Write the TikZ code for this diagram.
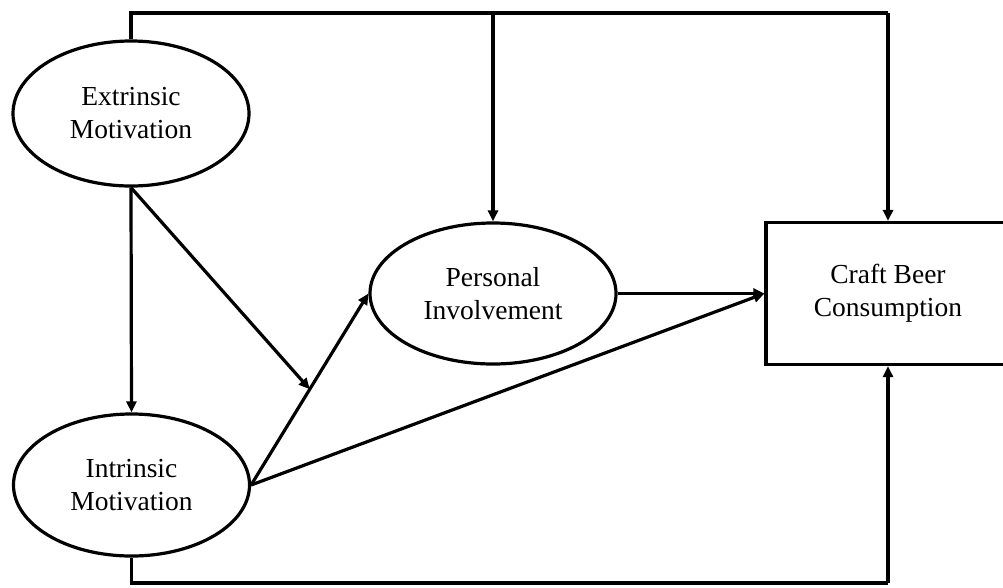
\documentclass[tikz,border=0pt]{standalone}
\usepackage{fontspec}
\setmainfont{Liberation Serif}
\usetikzlibrary{shapes.geometric,arrows.meta,calc}
\begin{document}
\begin{tikzpicture}[x=1pt,y=-1pt,
  every node/.style={font=\fontsize{27.5}{33}\selectfont, align=center, inner sep=0pt, line width=3.2pt},
  latent/.style={ellipse, draw},
  observed/.style={rectangle, draw},
  conn/.style={line width=3.2pt},
  arr/.style={conn, -{Triangle[length=11pt,width=10pt]}}]
\useasboundingbox (0,0) rectangle (1003,587);
\clip (0,0) rectangle (1003,587);
\fill[white] (0,0) rectangle (1003,587);
\node[latent, minimum width=236pt, minimum height=145pt] (ext) at (131,113.5) {Extrinsic\\Motivation};
\node[latent, minimum width=236pt, minimum height=142pt] (int) at (131.5,485) {Intrinsic\\Motivation};
\node[latent, minimum width=246pt, minimum height=141pt] (pi) at (493,293.5) {Personal\\Involvement};
\node[observed, minimum width=244pt, minimum height=142pt] (cbc) at (888,293.5) {Craft Beer\\Consumption};
\coordinate (t1) at (131,13);
\coordinate (t2) at (493,13);
\coordinate (t3) at (888,13);
\coordinate (b1) at (131.5,583);
\coordinate (b3) at (888,583);
\coordinate (m) at ($(int.east)!0.5!(pi.west)$);
\draw[conn, line join=miter] (ext.north) -- (t1) -- (t3);
\draw[arr] (t3) -- (cbc.north);
\draw[arr] (t2) -- (pi.north);
\draw[conn, line join=miter] (int.south) -- (b1) -- (b3);
\draw[arr] (b3) -- (cbc.south);
\draw[arr] (ext.south) -- (int.north);
\draw[arr] (ext.south) -- (m);
\draw[arr] (int.east) -- (pi.west);
\draw[arr] (int.east) -- (cbc.west);
\draw[arr] (pi.east) -- (cbc.west);
\end{tikzpicture}
\end{document}
